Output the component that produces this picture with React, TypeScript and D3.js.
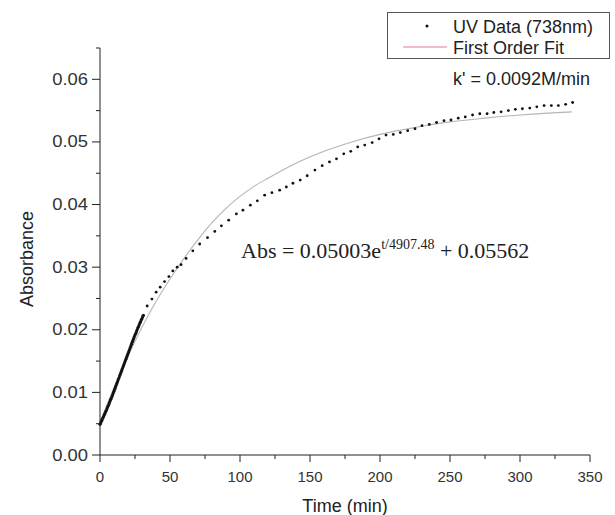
import React from "react";
import * as d3 from "d3";

// early readings, taken every half minute
const denseTime = [
  0, 0.5, 1, 1.5, 2, 2.5, 3, 3.5, 4, 4.5, 5, 5.5, 6, 6.5, 7, 7.5, 8, 8.5, 9, 9.5,
  10, 10.5, 11, 11.5, 12, 12.5, 13, 13.5, 14, 14.5, 15, 15.5, 16, 16.5, 17, 17.5,
  18, 18.5, 19, 19.5, 20, 20.5, 21, 21.5, 22, 22.5, 23, 23.5, 24, 24.5, 25, 25.5,
  26, 26.5, 27, 27.5, 28, 28.5, 29, 29.5, 30, 30.5, 31,
];
const denseAbs = [
  0.0049, 0.0051, 0.0054, 0.0056, 0.0059, 0.0061, 0.0064, 0.0066, 0.0069, 0.0071,
  0.0074, 0.0077, 0.0079, 0.0082, 0.0085, 0.0088, 0.009, 0.0093, 0.0096, 0.0099,
  0.0102, 0.0105, 0.0108, 0.0111, 0.0114, 0.0117, 0.012, 0.0123, 0.0126, 0.0129,
  0.0132, 0.0135, 0.0138, 0.0141, 0.0144, 0.0147, 0.015, 0.0153, 0.0156, 0.0159,
  0.0162, 0.0165, 0.0168, 0.0171, 0.0174, 0.0177, 0.018, 0.0183, 0.0186, 0.0189,
  0.0192, 0.0194, 0.0197, 0.02, 0.0203, 0.0205, 0.0208, 0.0211, 0.0213, 0.0216,
  0.0218, 0.0221, 0.0223,
];

// later readings
const sparseTime = [
  33.7, 37.1, 40.1, 43.0, 46.1, 49.2, 52.0, 55.1, 57.9, 61.5, 66.3, 71.2, 76.8,
  82.0, 86.7, 91.9, 97.4, 102.1, 107.4, 112.4, 117.6, 122.8, 128.3, 133.1, 137.8,
  143.0, 148.0, 153.5, 158.7, 163.9, 168.9, 174.1, 179.1, 184.1, 189.1, 194.4,
  199.3, 204.3, 209.5, 214.5, 219.8, 225.0, 230.0, 235.2, 240.4, 245.7, 250.7,
  255.9, 260.9, 266.1, 271.3, 276.5, 281.3, 286.5, 291.7, 296.7, 301.7, 307.0,
  312.0, 317.2, 322.4, 327.4, 332.6, 337.6,
];
const sparseAbs = [
  0.0238, 0.0249, 0.026, 0.0268, 0.0277, 0.0285, 0.0294, 0.03, 0.0304, 0.0314,
  0.0326, 0.0337, 0.0347, 0.0357, 0.0366, 0.0375, 0.0385, 0.0391, 0.0399, 0.0406,
  0.0415, 0.0419, 0.0423, 0.0428, 0.0434, 0.0439, 0.0446, 0.0455, 0.0462, 0.0468,
  0.0473, 0.0481, 0.0485, 0.0492, 0.0495, 0.0499, 0.0505, 0.0511, 0.0512, 0.0515,
  0.0518, 0.0521, 0.0526, 0.0528, 0.0531, 0.0534, 0.0535, 0.0538, 0.054, 0.0543,
  0.0545, 0.0545, 0.0547, 0.0548, 0.055, 0.0552, 0.0553, 0.0554, 0.0556, 0.0558,
  0.0558, 0.0558, 0.056, 0.0563,
];

// first order fit
const fitTime = [0, 10, 20, 30, 40, 50, 60, 70, 80, 90, 100, 110, 120, 140, 160, 180, 200, 225, 250, 275, 300, 320, 337];
const fitAbs = [
  0.0052, 0.0108, 0.0158, 0.0204, 0.0245, 0.0281, 0.0314, 0.0344, 0.0371, 0.0394,
  0.0413, 0.0429, 0.0442, 0.0466, 0.0485, 0.05, 0.0512, 0.0523, 0.0532, 0.0538,
  0.0543, 0.0546, 0.0548,
];

const xTicks = [0, 50, 100, 150, 200, 250, 300, 350];
const xMinor = [25, 75, 125, 175, 225, 275, 325];
const yTicks = [0, 0.01, 0.02, 0.03, 0.04, 0.05, 0.06];
const yMinor = [0.005, 0.015, 0.025, 0.035, 0.045, 0.055, 0.065];

const W = 615;
const H = 515;
const sans = "'Liberation Sans', Arial, sans-serif";
const serif = "'Liberation Serif', 'Times New Roman', serif";

export default function App() {
  const x = d3.scaleLinear().domain([0, 350]).range([100, 590]);
  const y = d3.scaleLinear().domain([0, 0.065]).range([455, 48]);

  const fitLine = d3
    .line<number>()
    .x((t) => x(t))
    .y((_, i) => y(fitAbs[i]))
    .curve(d3.curveMonotoneX);

  const x0 = x(0);
  const y0 = y(0);

  return (
    <svg
      width={W}
      height={H}
      style={{ position: "absolute", left: 0, top: 0, background: "#fff" }}
    >
      {/* fit curve */}
      <path d={fitLine(fitTime) || ""} fill="none" stroke="#bab2b4" strokeWidth={1.1} />

      {/* data */}
      {denseTime.map((t, i) => (
        <circle key={"d" + i} cx={x(t)} cy={y(denseAbs[i])} r={1.6} fill="#111" />
      ))}
      {sparseTime.map((t, i) => (
        <circle key={"s" + i} cx={x(t)} cy={y(sparseAbs[i])} r={1.4} fill="#111" />
      ))}

      {/* axes */}
      <line x1={x0} x2={x0} y1={y(0.065)} y2={y0} stroke="#222" />
      <line x1={x0} x2={x(350)} y1={y0} y2={y0} stroke="#222" />
      {yTicks.map((v) => (
        <g key={"yt" + v}>
          <line x1={x0 - 8} x2={x0} y1={y(v)} y2={y(v)} stroke="#222" />
          <g transform={`translate(${x0 - 12},${y(v) + 5.5}) scale(1.15,1)`}>
            <text textAnchor="end" fontFamily={sans} fontSize={16} fill="#333">
              {v.toFixed(2)}
            </text>
          </g>
        </g>
      ))}
      {yMinor.map((v) => (
        <line key={"ym" + v} x1={x0 - 4} x2={x0} y1={y(v)} y2={y(v)} stroke="#222" />
      ))}
      {xTicks.map((v) => (
        <g key={"xt" + v}>
          <line x1={x(v)} x2={x(v)} y1={y0} y2={y0 + 7} stroke="#222" />
          <text x={x(v)} y={y0 + 26.5} textAnchor="middle" fontFamily={sans} fontSize={15} fill="#333">
            {v}
          </text>
        </g>
      ))}
      {xMinor.map((v) => (
        <line key={"xm" + v} x1={x(v)} x2={x(v)} y1={y0} y2={y0 + 4} stroke="#222" />
      ))}

      {/* axis titles */}
      <text x={345} y={512} textAnchor="middle" fontFamily={sans} fontSize={18} fill="#222">
        Time (min)
      </text>
      <text
        transform={`translate(33,259) rotate(-90)`}
        textAnchor="middle"
        fontFamily={sans}
        fontSize={18}
        fill="#222"
      >
        Absorbance
      </text>

      {/* legend */}
      <rect x={387.5} y={12.5} width={222} height={46} fill="#fff" stroke="#555" />
      <circle cx={427} cy={26} r={1.5} fill="#111" />
      <text x={453} y={33} fontFamily={sans} fontSize={18} fill="#222">
        UV Data (738nm)
      </text>
      <line x1={403} x2={447} y1={47} y2={47} stroke="#f0a4b8" strokeWidth={1.5} />
      <text x={453} y={54} fontFamily={sans} fontSize={18} fill="#222">
        First Order Fit
      </text>
      <text x={453} y={85} fontFamily={sans} fontSize={18} fill="#222">
        k' = 0.0092M/min
      </text>

      {/* fitted equation */}
      <text x={241} y={258} fontFamily={serif} fontSize={22} fill="#222">
        Abs = 0.05003e
        <tspan dy={-9} fontSize={14}>t/4907.48</tspan>
        <tspan dy={9} fontSize={22}> + 0.05562</tspan>
      </text>
    </svg>
  );
}
